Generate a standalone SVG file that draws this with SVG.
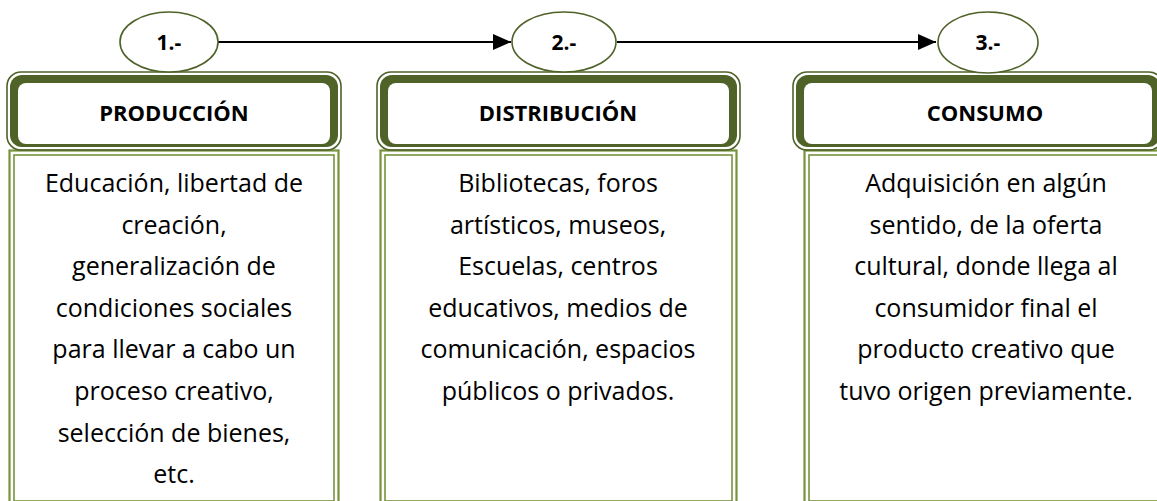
<svg xmlns="http://www.w3.org/2000/svg" width="1157" height="501" viewBox="0 0 1157 501">
<style>
.ell{fill:#fff;stroke:#4F6228;stroke-width:1.6}
.num{font-family:"Open Sans","Liberation Sans",sans-serif;font-weight:bold;font-size:21px;fill:#000;text-anchor:middle}
.hthick{fill:#4F6228}
.hin{fill:#fff}
.hout{fill:none;stroke:#4F6228;stroke-width:1.6}
.bout{fill:#fff;stroke:#77933C;stroke-width:2.2}
.bin{fill:none;stroke:#77933C;stroke-width:1.6}
.ht{font-family:"Open Sans","Liberation Sans",sans-serif;font-weight:bold;font-size:22px;fill:#000;text-anchor:middle}
.bt{font-family:"Open Sans","Liberation Sans",sans-serif;font-size:25px;fill:#000;text-anchor:middle}
.conn{stroke:#000;stroke-width:2;fill:none}
</style>
<defs>
<marker id="ah" markerWidth="9" markerHeight="8" refX="9" refY="4" orient="auto" markerUnits="strokeWidth">
<path d="M0,0 L9,4 L0,8 Z" fill="#000"/>
</marker>
</defs>
<g id="connectors">
<line class="conn" x1="218" y1="42" x2="511" y2="42" marker-end="url(#ah)"/>
<line class="conn" x1="617" y1="42" x2="936" y2="42" marker-end="url(#ah)"/>
</g>
<g id="node-produccion">
<rect class="bout" x="9.5" y="150.5" width="329" height="352"/>
<rect class="bin" x="14" y="155" width="320" height="346"/>
<rect class="hout" x="7" y="72" width="334" height="78" rx="14"/>
<rect class="hthick" x="10" y="75" width="328" height="72" rx="12"/>
<rect class="hin" x="18" y="83" width="312" height="61" rx="8"/>
<text class="ht" x="174" y="121">PRODUCCIÓN</text>
<text class="bt" x="174" y="192">Educación, libertad de</text>
<text class="bt" x="174" y="233.6">creación,</text>
<text class="bt" x="174" y="275.2">generalización de</text>
<text class="bt" x="174" y="316.8">condiciones sociales</text>
<text class="bt" x="174" y="358.4">para llevar a cabo un</text>
<text class="bt" x="174" y="400">proceso creativo,</text>
<text class="bt" x="174" y="441.6">selección de bienes,</text>
<text class="bt" x="174" y="483.2">etc.</text>
</g>
<g id="node-distribucion">
<rect class="bout" x="380.5" y="150.5" width="356" height="352"/>
<rect class="bin" x="385" y="155" width="347" height="346"/>
<rect class="hout" x="377" y="72" width="363" height="78" rx="14"/>
<rect class="hthick" x="380" y="75" width="357" height="72" rx="12"/>
<rect class="hin" x="388" y="83" width="341" height="61" rx="8"/>
<text class="ht" x="558" y="121">DISTRIBUCIÓN</text>
<text class="bt" x="558" y="192">Bibliotecas, foros</text>
<text class="bt" x="558" y="233.6">artísticos, museos,</text>
<text class="bt" x="558" y="275.2">Escuelas, centros</text>
<text class="bt" x="558" y="316.8">educativos, medios de</text>
<text class="bt" x="558" y="358.4">comunicación, espacios</text>
<text class="bt" x="558" y="400">públicos o privados.</text>
</g>
<g id="node-consumo">
<rect class="bout" x="804.5" y="150.5" width="370" height="352"/>
<rect class="bin" x="809" y="155" width="361" height="346"/>
<rect class="hout" x="793" y="72" width="370" height="78" rx="14"/>
<rect class="hthick" x="796" y="75" width="364" height="72" rx="12"/>
<rect class="hin" x="804" y="83" width="348" height="61" rx="8"/>
<text class="ht" x="985" y="121">CONSUMO</text>
<text class="bt" x="986" y="192">Adquisición en algún</text>
<text class="bt" x="986" y="233.6">sentido, de la oferta</text>
<text class="bt" x="986" y="275.2">cultural, donde llega al</text>
<text class="bt" x="986" y="316.8">consumidor final el</text>
<text class="bt" x="986" y="358.4">producto creativo que</text>
<text class="bt" x="986" y="400">tuvo origen previamente.</text>
</g>
<g id="node-1">
<ellipse class="ell" cx="169" cy="42" rx="49" ry="30"/>
<text class="num" x="169" y="50">1.-</text>
</g>
<g id="node-2">
<ellipse class="ell" cx="564" cy="42" rx="52" ry="30"/>
<text class="num" x="564" y="50">2.-</text>
</g>
<g id="node-3">
<ellipse class="ell" cx="988" cy="42.5" rx="50" ry="30.5"/>
<text class="num" x="988" y="50">3.-</text>
</g>
</svg>
